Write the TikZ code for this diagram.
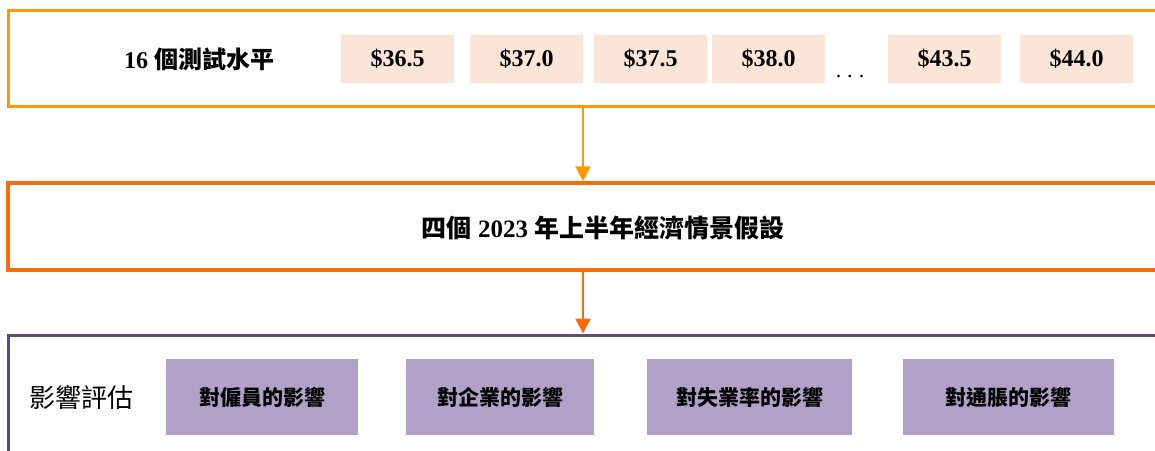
\documentclass[tikz,border=0pt]{standalone}
\usepackage{fontspec}
\setmainfont{Liberation Serif}
\newfontfamily\cjk{Noto Sans CJK TC}
\usepackage{tikz}
\usetikzlibrary{arrows.meta,positioning}
\definecolor{frameorange}{RGB}{255,153,0}
\definecolor{framedeep}{RGB}{250,108,10}
\definecolor{framepurple}{RGB}{96,74,123}
\definecolor{pricefill}{RGB}{251,229,214}
\definecolor{impactfill}{RGB}{177,160,199}

\tikzset{
  frame/.style={draw, rectangle, minimum width=1150pt, inner sep=0pt},
  pricebox/.style={fill=pricefill, minimum width=113pt, minimum height=48pt, inner sep=0pt,
    font=\fontsize{24}{26}\selectfont\bfseries},
  impactbox/.style={fill=impactfill, minimum height=76pt, inner sep=0pt,
    font=\fontsize{21}{24}\selectfont\cjk\bfseries},
  flow/.style={-{Triangle[length=15pt,width=15pt]}, line width=2.5pt},
}

\begin{document}
\begin{tikzpicture}[x=1pt,y=-1pt]
            \useasboundingbox (0,0) rectangle (1155,450);
            \clip (0,0) rectangle (1155,450);

            % Draw the three frames
            \node[frame, draw=frameorange, line width=3pt, minimum height=96pt] (levels) at (583,58) {};
            \node[frame, draw=framedeep, line width=3.5pt, minimum height=87pt] (scenarios) at (583,226.5) {};
            \node[frame, draw=framepurple, line width=3pt, minimum height=160pt] (impact) at (583,415) {};

            \draw[flow, frameorange] (levels.south) -- (scenarios.north);
            \draw[flow, framedeep] (scenarios.south) -- (impact.north);

            % Test levels
            \node[font=\fontsize{24}{26}\selectfont\bfseries] (levelslabel) at (199,59) {16 {\cjk 個測試水平}};
            \node[pricebox] (p365) at (397.5,59) {\$36.5};
            \node[pricebox] (p370) at (526.5,59) {\$37.0};
            \node[pricebox] (p375) at (650.5,59) {\$37.5};
            \node[pricebox] (p380) at (768.5,59) {\$38.0};
            \node[font=\fontsize{22}{24}\selectfont, inner sep=0pt] (pdots) at (850,77) {.\hspace{6pt}.\hspace{6pt}.};
            \node[pricebox] (p435) at (944.5,59) {\$43.5};
            \node[pricebox] (p440) at (1076.5,59) {\$44.0};

            % Scenarios
            \node[font=\fontsize{25}{28}\selectfont\bfseries] (scenlabel) at (603,228)
                {{\cjk 四個} 2023 {\cjk 年上半年經濟情景假設}};

            % Impact assessment
            \node[font=\fontsize{26}{28}\selectfont\cjk] (impactlabel) at (81.5,397) {影響評估};
            \node[impactbox, minimum width=192pt] (staff) at (262,397) {對僱員的影響};
            \node[impactbox, minimum width=188pt] (firms) at (500,397) {對企業的影響};
            \node[impactbox, minimum width=205pt] (jobless) at (749.5,397) {對失業率的影響};
            \node[impactbox, minimum width=211pt] (inflation) at (1008.5,397) {對通脹的影響};
        \end{tikzpicture}
\end{document}
